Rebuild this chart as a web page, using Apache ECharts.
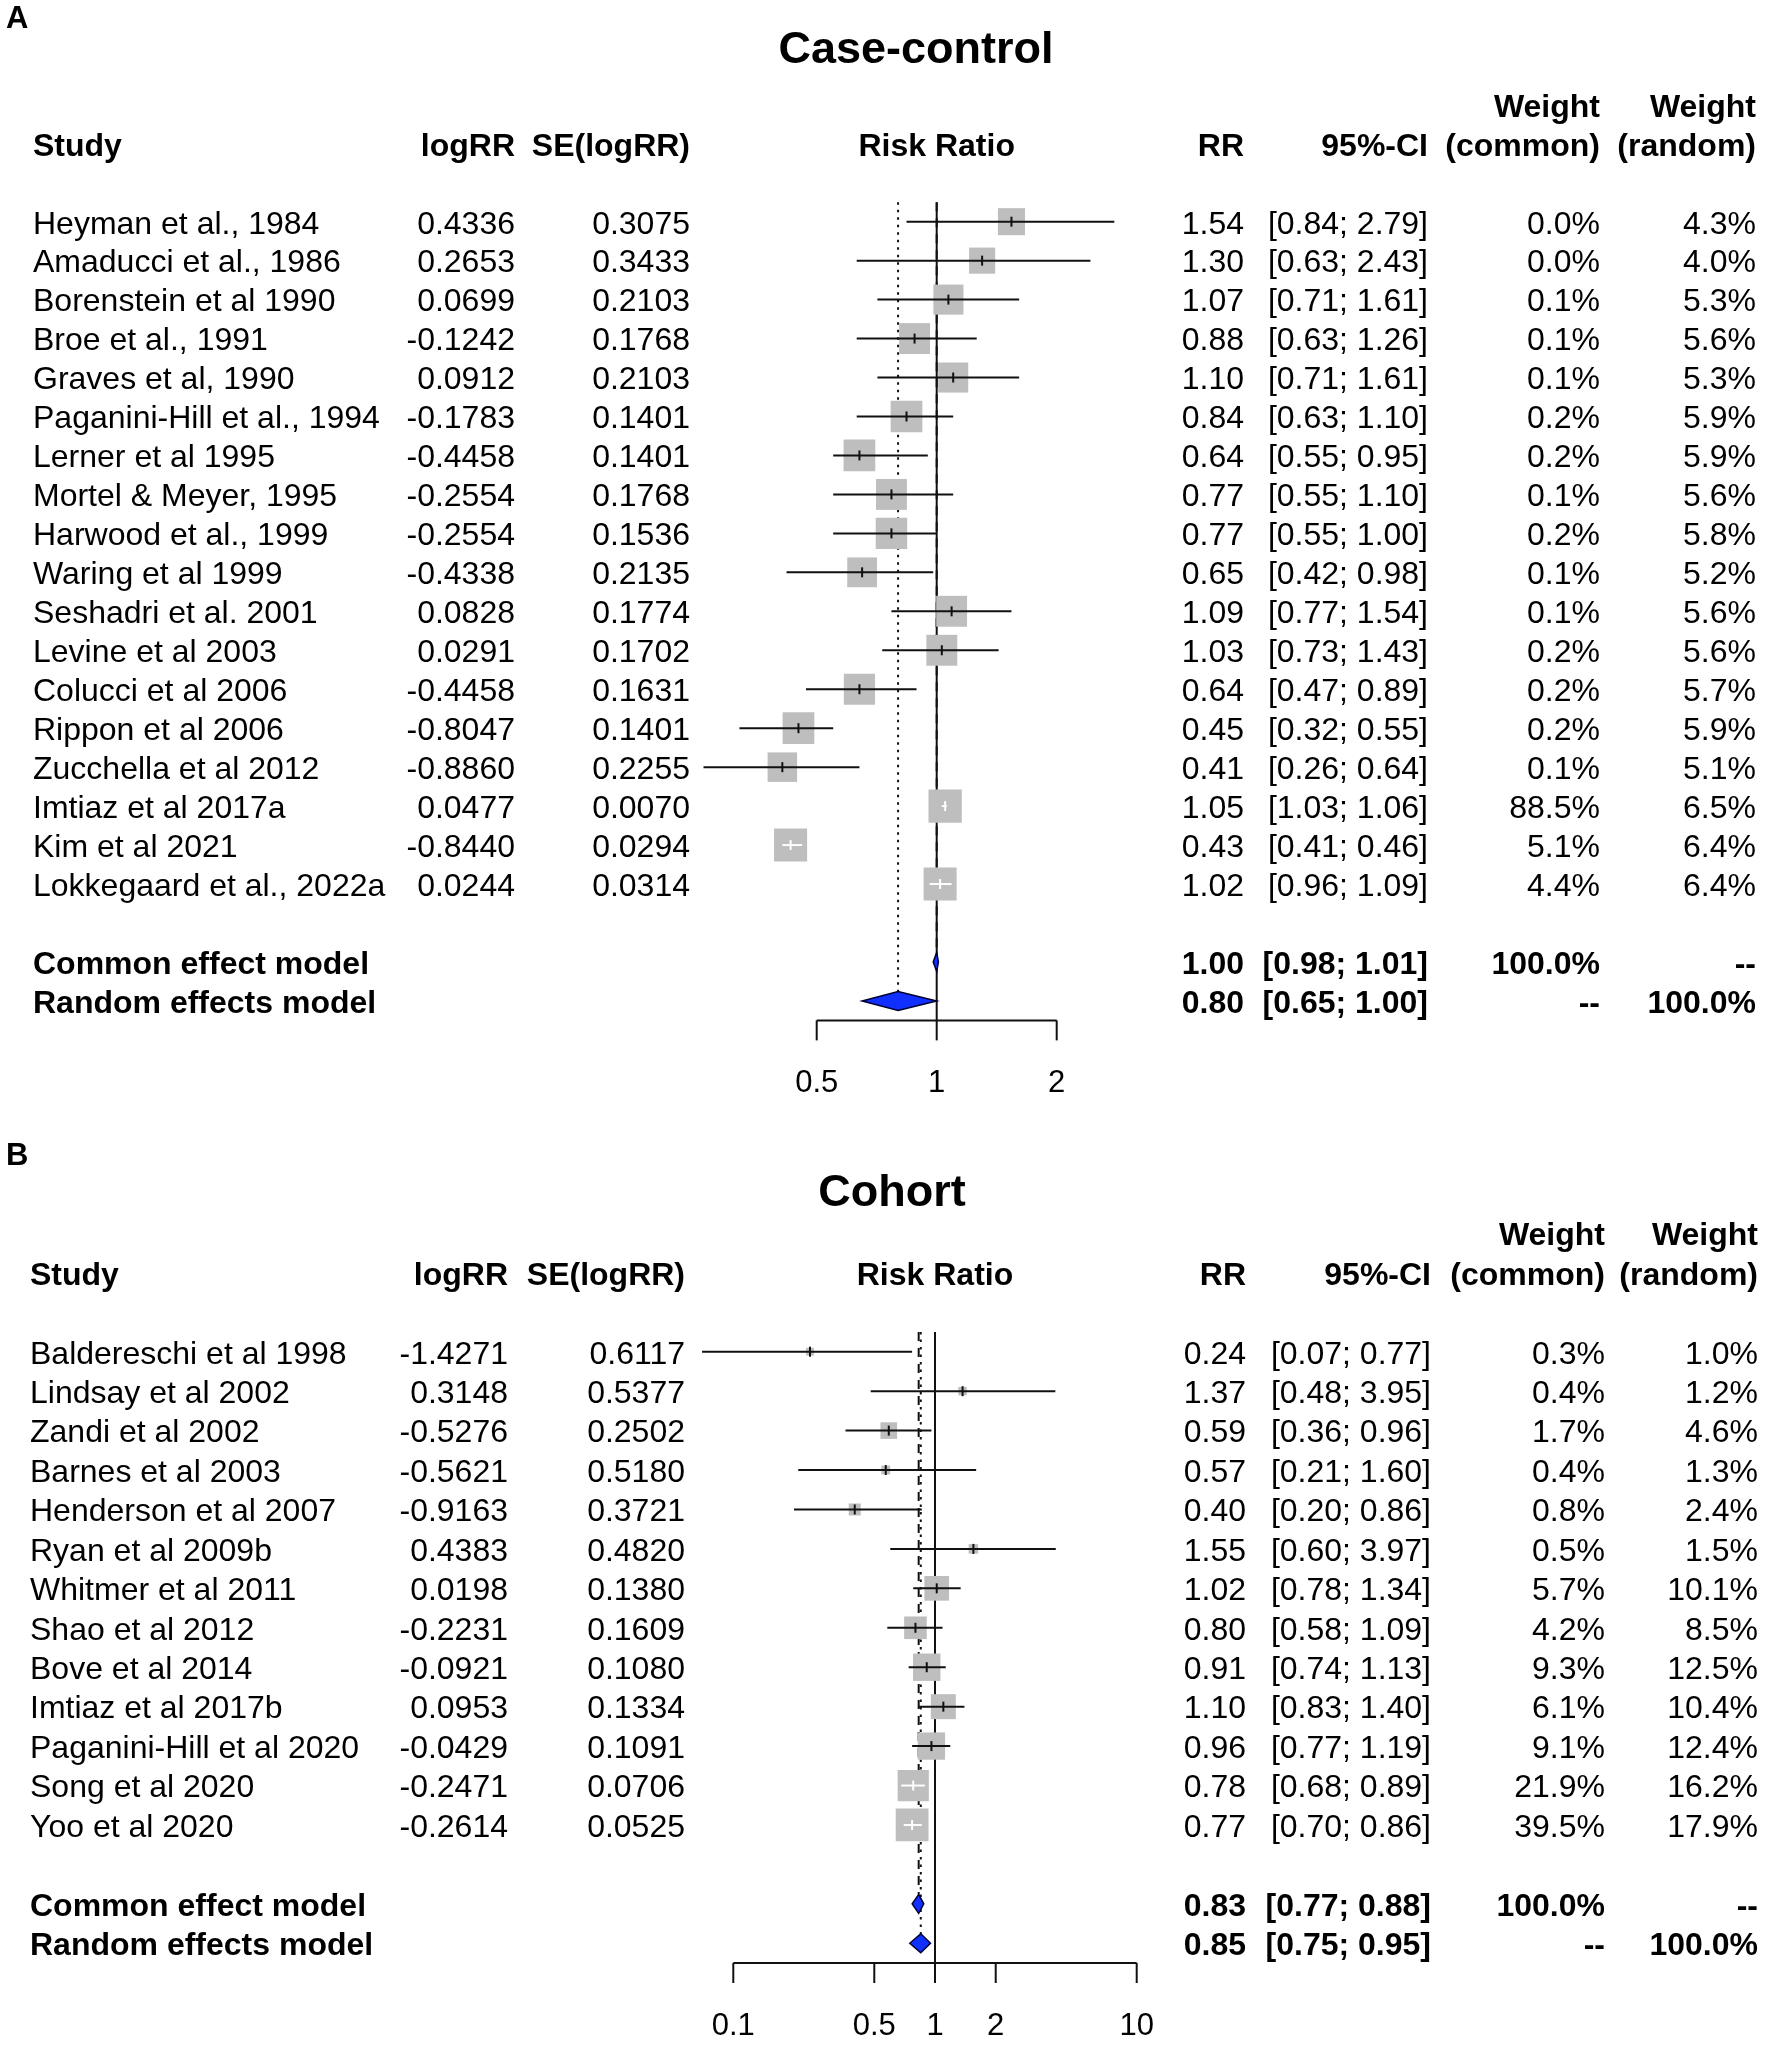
<!DOCTYPE html>
<html><head><meta charset="utf-8">
<script src="https://cdn.jsdelivr.net/npm/echarts@6/dist/echarts.min.js"></script>
<style>html,body{margin:0;padding:0;background:#fff}#c{width:1772px;height:2051px}</style>
</head><body><div id="c"></div>
<script>
// ---------- Panel A: Case-control ----------
const studiesA = ["Heyman et al., 1984","Amaducci et al., 1986","Borenstein et al 1990","Broe et al., 1991","Graves et al, 1990","Paganini-Hill et al., 1994","Lerner et al 1995","Mortel & Meyer, 1995","Harwood et al., 1999","Waring et al 1999","Seshadri et al. 2001","Levine et al 2003","Colucci et al 2006","Rippon et al 2006","Zucchella et al 2012","Imtiaz et al 2017a","Kim et al 2021","Lokkegaard et al., 2022a"];
const logRRA = [0.4336,0.2653,0.0699,-0.1242,0.0912,-0.1783,-0.4458,-0.2554,-0.2554,-0.4338,0.0828,0.0291,-0.4458,-0.8047,-0.8860,0.0477,-0.8440,0.0244];
const seA = [0.3075,0.3433,0.2103,0.1768,0.2103,0.1401,0.1401,0.1768,0.1536,0.2135,0.1774,0.1702,0.1631,0.1401,0.2255,0.0070,0.0294,0.0314];
const rrA = [1.54,1.30,1.07,0.88,1.10,0.84,0.64,0.77,0.77,0.65,1.09,1.03,0.64,0.45,0.41,1.05,0.43,1.02];
const lowerA = [0.84,0.63,0.71,0.63,0.71,0.63,0.55,0.55,0.55,0.42,0.77,0.73,0.47,0.32,0.26,1.03,0.41,0.96];
const upperA = [2.79,2.43,1.61,1.26,1.61,1.10,0.95,1.10,1.00,0.98,1.54,1.43,0.89,0.55,0.64,1.06,0.46,1.09];
const weightCommonA = [0.0,0.0,0.1,0.1,0.1,0.2,0.2,0.1,0.2,0.1,0.1,0.2,0.2,0.2,0.1,88.5,5.1,4.4];
const weightRandomA = [4.3,4.0,5.3,5.6,5.3,5.9,5.9,5.6,5.8,5.2,5.6,5.6,5.7,5.9,5.1,6.5,6.4,6.4];
const modelNamesA = ["Common effect model","Random effects model"];
const modelRRA = [1.00,0.80];
const modelLowerA = [0.98,0.65];
const modelUpperA = [1.01,1.00];
const modelWeightCommonA = ["100.0%","--"];
const modelWeightRandomA = ["--","100.0%"];
const ticksA = [0.5,1,2];

// ---------- Panel B: Cohort ----------
const studiesB = ["Baldereschi et al 1998","Lindsay et al 2002","Zandi et al 2002","Barnes et al 2003","Henderson et al 2007","Ryan et al 2009b","Whitmer et al 2011","Shao et al 2012","Bove et al 2014","Imtiaz et al 2017b","Paganini-Hill et al 2020","Song et al 2020","Yoo et al 2020"];
const logRRB = [-1.4271,0.3148,-0.5276,-0.5621,-0.9163,0.4383,0.0198,-0.2231,-0.0921,0.0953,-0.0429,-0.2471,-0.2614];
const seB = [0.6117,0.5377,0.2502,0.5180,0.3721,0.4820,0.1380,0.1609,0.1080,0.1334,0.1091,0.0706,0.0525];
const rrB = [0.24,1.37,0.59,0.57,0.40,1.55,1.02,0.80,0.91,1.10,0.96,0.78,0.77];
const lowerB = [0.07,0.48,0.36,0.21,0.20,0.60,0.78,0.58,0.74,0.83,0.77,0.68,0.70];
const upperB = [0.77,3.95,0.96,1.60,0.86,3.97,1.34,1.09,1.13,1.40,1.19,0.89,0.86];
const weightCommonB = [0.3,0.4,1.7,0.4,0.8,0.5,5.7,4.2,9.3,6.1,9.1,21.9,39.5];
const weightRandomB = [1.0,1.2,4.6,1.3,2.4,1.5,10.1,8.5,12.5,10.4,12.4,16.2,17.9];
const modelNamesB = ["Common effect model","Random effects model"];
const modelRRB = [0.83,0.85];
const modelLowerB = [0.77,0.75];
const modelUpperB = [0.88,0.95];
const modelWeightCommonB = ["100.0%","--"];
const modelWeightRandomB = ["--","100.0%"];
const ticksB = [0.1,0.5,1,2,10];

// ---------- layout ----------
const FONT = '"Liberation Sans", Arial, Helvetica, sans-serif';
const LINE = '#111';
const TDY = 3; // text vertical nudge
const panels = [
  {studies:studiesA, logRR:logRRA, se:seA, rr:rrA, lo:lowerA, hi:upperA, wc:weightCommonA, wr:weightRandomA,
   mNames:modelNamesA, mRR:modelRRA, mLo:modelLowerA, mHi:modelUpperA, mWc:modelWeightCommonA, mWr:modelWeightRandomA, ticks:ticksA,
   grid:{left:576.7, top:202.2, width:600, height:818.2}, logBase:2, xmin:0.125, xmax:4,
   cols:{study:33, logRR:515, se:690, rr:1244, ci:1428, wc:1600, wr:1756}, sqMax:33.3, wMax:6.5},
  {studies:studiesB, logRR:logRRB, se:seB, rr:rrB, lo:lowerB, hi:upperB, wc:weightCommonB, wr:weightRandomB,
   mNames:modelNamesB, mRR:modelRRB, mLo:modelLowerB, mHi:modelUpperB, mWc:modelWeightCommonB, mWr:modelWeightRandomB, ticks:ticksB,
   grid:{left:531.6, top:1332, width:806.8, height:631.0}, logBase:10, xmin:0.01, xmax:100,
   cols:{study:30, logRR:508, se:685, rr:1246, ci:1431, wc:1605, wr:1758}, sqMax:32.8, wMax:17.9}
];
const HH = 9.5; // diamond half height

const grids = [], xAxes = [], yAxes = [], series = [];
panels.forEach((P, pi) => {
  const n = P.studies.length;
  const ymax = n + 2.5;
  const rowCommon = n + 1, rowRandom = n + 2;
  grids.push(Object.assign({containLabel:false}, P.grid));
  xAxes.push({type:'log', logBase:P.logBase, min:P.xmin, max:P.xmax, gridIndex:pi, show:false});
  yAxes.push({type:'value', min:-0.5, max:ymax, inverse:true, gridIndex:pi, show:false});
  const ax = {xAxisIndex:pi, yAxisIndex:pi, clip:false, silent:true, z:2};

  // reference lines
  const refData = [[1,0],[P.mRR[1],1],[P.mRR[0],2]];
  series.push(Object.assign({}, ax, {type:'custom', z:1, data:refData,
    renderItem:(params, api) => {
      const v = api.value(0), kind = api.value(1);
      const top = api.coord([v, -0.5]);
      let y2, dash = null;
      if (kind === 0) { y2 = api.coord([v, ymax])[1]; }
      else if (kind === 1) { y2 = api.coord([v, rowRandom])[1] - HH; dash = [2.5, 5]; }
      else { y2 = api.coord([v, rowCommon])[1] - HH; dash = [9, 7]; }
      return {type:'line', shape:{x1:top[0], y1:top[1], x2:top[0], y2:y2},
        style:{stroke:LINE, lineWidth:2, lineDash:dash}};
    }}));

  // study squares + CIs
  const stData = P.rr.map((r, i) => [r, i, P.lo[i], P.hi[i], P.wr[i]]);
  series.push(Object.assign({}, ax, {type:'custom', z:3, data:stData,
    renderItem:(params, api) => {
      const est = api.value(0), row = api.value(1), lo = api.value(2), hi = api.value(3), w = api.value(4);
      const c = api.coord([est, row]), l = api.coord([lo, row]), h = api.coord([hi, row]);
      const s = P.sqMax * Math.sqrt(w / P.wMax);
      const inside = l[0] >= c[0] - s/2 && h[0] <= c[0] + s/2;
      const col = inside ? '#ffffff' : LINE;
      return {type:'group', children:[
        {type:'rect', shape:{x:c[0]-s/2, y:c[1]-s/2, width:s, height:s}, style:{fill:'#bebebe'}},
        {type:'line', shape:{x1:l[0], y1:c[1], x2:h[0], y2:c[1]}, style:{stroke:col, lineWidth:2}},
        {type:'line', shape:{x1:c[0], y1:c[1]-5, x2:c[0], y2:c[1]+5}, style:{stroke:col, lineWidth:2}}
      ]};
    }}));

  // diamonds
  const dmData = P.mRR.map((r, i) => [r, n + 1 + i, P.mLo[i], P.mHi[i]]);
  series.push(Object.assign({}, ax, {type:'custom', z:4, data:dmData,
    renderItem:(params, api) => {
      const row = api.value(1);
      const c = api.coord([api.value(0), row]), l = api.coord([api.value(2), row]), h = api.coord([api.value(3), row]);
      return {type:'polygon', shape:{points:[[l[0],c[1]],[c[0],c[1]-HH],[h[0],c[1]],[c[0],c[1]+HH]]},
        style:{fill:'#1030ff', stroke:'#000030', lineWidth:1.5}};
    }}));

  // axis
  const axData = P.ticks.map(t => [t, ymax]);
  series.push(Object.assign({}, ax, {type:'custom', z:2, data:axData,
    renderItem:(params, api) => {
      const p = api.coord([api.value(0), api.value(1)]);
      const ch = [
        {type:'line', shape:{x1:p[0], y1:p[1], x2:p[0], y2:p[1]+20}, style:{stroke:LINE, lineWidth:2}},
        {type:'text', x:p[0], y:p[1]+60+TDY, style:{text:String(api.value(0)), fill:'#000', font:'31px ' + FONT, align:'center', verticalAlign:'middle'}}
      ];
      if (params.dataIndex === 0) {
        const a = api.coord([P.ticks[0], ymax]), b = api.coord([P.ticks[P.ticks.length-1], ymax]);
        ch.push({type:'line', shape:{x1:a[0], y1:a[1], x2:b[0], y2:b[1]}, style:{stroke:LINE, lineWidth:2}});
      }
      return {type:'group', children:ch};
    }}));

  // table text
  const C = P.cols;
  const rows = [];
  rows.push({row:-3, items:[{x:C.wc, t:'Weight', a:'right', b:true},{x:C.wr, t:'Weight', a:'right', b:true}]});
  rows.push({row:-2, items:[
    {x:C.study, t:'Study', a:'left', b:true},
    {x:C.logRR, t:'logRR', a:'right', b:true},
    {x:C.se, t:'SE(logRR)', a:'right', b:true},
    {x:null, t:'Risk Ratio', a:'center', b:true},
    {x:C.rr, t:'RR', a:'right', b:true},
    {x:C.ci, t:'95%-CI', a:'right', b:true},
    {x:C.wc, t:'(common)', a:'right', b:true},
    {x:C.wr, t:'(random)', a:'right', b:true}]});
  P.studies.forEach((s, i) => rows.push({row:i, items:[
    {x:C.study, t:s, a:'left'},
    {x:C.logRR, t:P.logRR[i].toFixed(4), a:'right'},
    {x:C.se, t:P.se[i].toFixed(4), a:'right'},
    {x:C.rr, t:P.rr[i].toFixed(2), a:'right'},
    {x:C.ci, t:'[' + P.lo[i].toFixed(2) + '; ' + P.hi[i].toFixed(2) + ']', a:'right'},
    {x:C.wc, t:P.wc[i].toFixed(1) + '%', a:'right'},
    {x:C.wr, t:P.wr[i].toFixed(1) + '%', a:'right'}]}));
  P.mNames.forEach((m, i) => rows.push({row:n + 1 + i, items:[
    {x:C.study, t:m, a:'left', b:true},
    {x:C.rr, t:P.mRR[i].toFixed(2), a:'right', b:true},
    {x:C.ci, t:'[' + P.mLo[i].toFixed(2) + '; ' + P.mHi[i].toFixed(2) + ']', a:'right', b:true},
    {x:C.wc, t:P.mWc[i], a:'right', b:true},
    {x:C.wr, t:P.mWr[i], a:'right', b:true}]}));
  series.push(Object.assign({}, ax, {type:'custom', z:5, data:rows.map(r => [1, r.row]),
    renderItem:(params, api) => {
      const p = api.coord([1, api.value(1)]);
      const r = rows[params.dataIndex];
      return {type:'group', children:r.items.map(it => ({type:'text', x: it.x === null ? p[0] : it.x, y:p[1] + TDY,
        style:{text:it.t, fill:'#000', font:(it.b ? 'bold ' : '') + '32px ' + FONT, align:it.a, verticalAlign:'middle'}}))};
    }}));
});

const chart = echarts.init(document.getElementById('c'), null, {renderer:'canvas'});
chart.setOption({
  animation:false,
  backgroundColor:'#ffffff',
  grid:grids, xAxis:xAxes, yAxis:yAxes, series:series,
  graphic:[
    {type:'text', left:6, top:4, style:{text:'A', font:'bold 31px ' + FONT, fill:'#000'}},
    {type:'text', left:6, top:1141, style:{text:'B', font:'bold 31px ' + FONT, fill:'#000'}},
    {type:'text', x:916, y:51, style:{text:'Case-control', font:'bold 45px ' + FONT, fill:'#000', align:'center', verticalAlign:'middle'}},
    {type:'text', x:892, y:1194, style:{text:'Cohort', font:'bold 45px ' + FONT, fill:'#000', align:'center', verticalAlign:'middle'}}
  ]
});
</script></body></html>
